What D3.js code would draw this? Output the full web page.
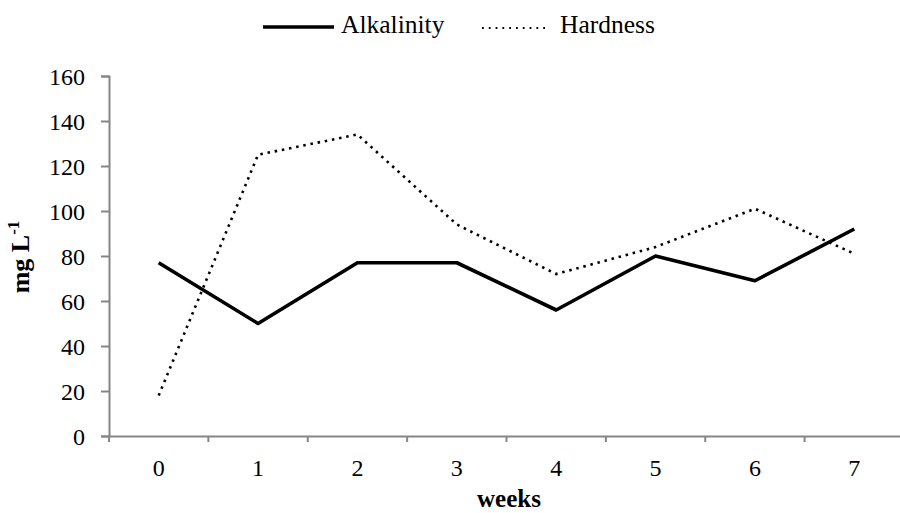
<!DOCTYPE html>
<meta charset="utf-8">
<style>
body { margin: 0; background: #fff; }
text { font-family: "Liberation Serif", "Times New Roman", serif; fill: #000; }
svg { display: block; }
</style>
<body>
<div id="chart"><svg width="900" height="513"></svg></div>
<script src="https://cdn.jsdelivr.net/npm/d3@7"></script>
<script>

var weeks = ["0", "1", "2", "3", "4", "5", "6", "7"];
var alkalinity = [77, 50, 77, 77, 56, 80, 69, 92];
var hardness = [18, 125, 134, 94, 72, 84, 101, 81];
var yTicks = [0, 20, 40, 60, 80, 100, 120, 140, 160];

var serif = "'Liberation Serif', 'Times New Roman', serif";
var svg = d3.select("#chart svg");
var mLeft = 109, mRight = 904, mTop = 76, mBottom = 436;

var x = d3.scaleBand().domain(weeks).range([mLeft, mRight]);
var y = d3.scaleLinear().domain([0, 160]).range([mBottom, mTop]);

var axisColor = "#868686";

// y axis
var gy = svg.append("g")
    .attr("transform", "translate(" + mLeft + ",0)")
    .call(d3.axisLeft(y).tickValues(yTicks).tickSize(8).tickPadding(16));
gy.attr("font-family", serif);
gy.select(".domain").attr("stroke", axisColor).attr("stroke-width", 2);
gy.selectAll(".tick line").attr("stroke", axisColor).attr("stroke-width", 2);
gy.selectAll(".tick text").attr("font-size", "24px").attr("fill", "#000").attr("dy", "0.34em");

// x axis, ticks between categories like a category axis
var gx = svg.append("g")
    .attr("transform", "translate(0," + mBottom + ")")
    .call(d3.axisBottom(x).tickSize(0).tickPadding(23));
gx.attr("font-family", serif);
gx.select(".domain").attr("stroke", axisColor).attr("stroke-width", 2);
gx.selectAll(".tick text").attr("font-size", "24px").attr("fill", "#000");
gx.selectAll(".sep")
    .data(weeks)
    .enter().append("line")
    .attr("x1", function(d) { return x(d); })
    .attr("x2", function(d) { return x(d); })
    .attr("y1", 0).attr("y2", 6)
    .attr("stroke", axisColor).attr("stroke-width", 2);

var line = d3.line()
    .x(function(d, i) { return x(weeks[i]) + x.bandwidth() / 2; })
    .y(function(d) { return y(d); });

svg.append("path")
    .datum(hardness)
    .attr("fill", "none")
    .attr("stroke", "#000")
    .attr("stroke-width", 2.6)
    .attr("stroke-dasharray", "2.5,4.8")
    .attr("d", line);

svg.append("path")
    .datum(alkalinity)
    .attr("fill", "none")
    .attr("stroke", "#000")
    .attr("stroke-width", 3.6)
    .attr("stroke-linejoin", "round")
    .attr("d", line);

// axis titles
svg.append("text")
    .attr("x", 509)
    .attr("y", 507)
    .attr("text-anchor", "middle")
    .attr("font-family", serif)
    .attr("font-size", "25px")
    .attr("font-weight", "bold")
    .text("weeks");

var yt = svg.append("text")
    .attr("transform", "translate(29,257) rotate(-90)")
    .attr("text-anchor", "middle")
    .attr("font-family", serif)
    .attr("font-size", "26px")
    .attr("font-weight", "bold");
yt.append("tspan").text("mg L");
yt.append("tspan").attr("dy", -10).attr("font-size", "17px").text("-1");

// legend
var legend = svg.append("g").attr("font-family", serif);
legend.append("line")
    .attr("x1", 263).attr("x2", 334).attr("y1", 27).attr("y2", 27)
    .attr("stroke", "#000").attr("stroke-width", 3.4);
legend.append("text")
    .attr("x", 341).attr("y", 33)
    .attr("font-size", "25.5px")
    .text("Alkalinity");
legend.append("line")
    .attr("x1", 482).attr("x2", 545).attr("y1", 28).attr("y2", 28)
    .attr("stroke", "#000").attr("stroke-width", 1.8)
    .attr("stroke-dasharray", "1.8,5");
legend.append("text")
    .attr("x", 560).attr("y", 33)
    .attr("font-size", "25.5px")
    .text("Hardness");

</script>
</body>
